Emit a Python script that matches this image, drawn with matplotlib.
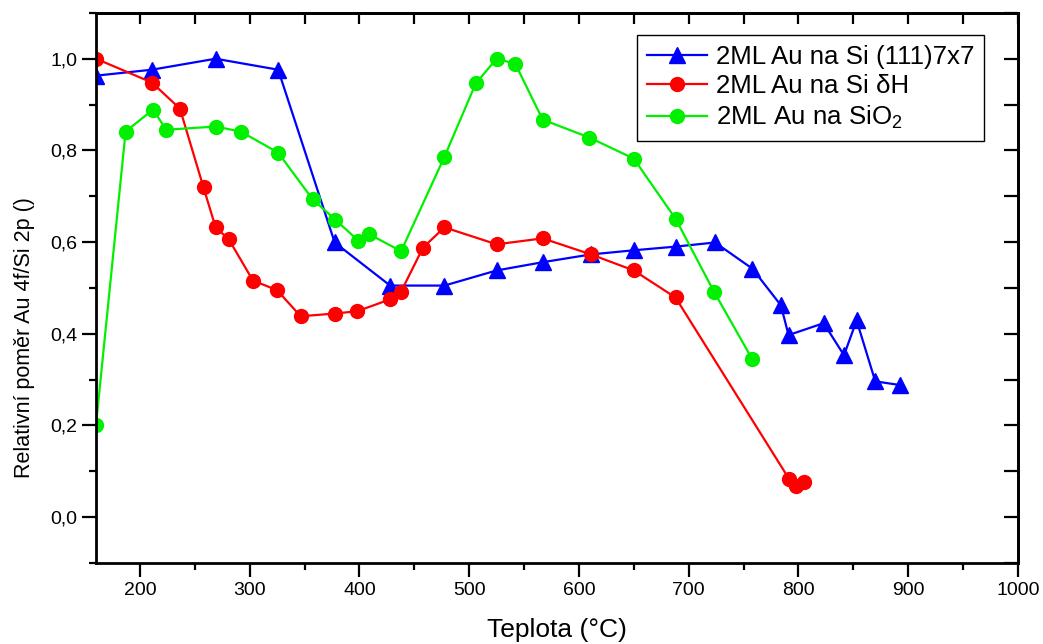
import matplotlib
matplotlib.use('Agg')
import matplotlib.pyplot as plt
from matplotlib.ticker import MultipleLocator
from matplotlib import font_manager

# data
x_blue = [160, 211, 269, 326, 377.5, 428, 477.5, 525, 567, 611, 650, 688, 724,
          758, 784, 791, 823, 841.5, 853, 870, 892.5]
y_blue = [0.963, 0.976, 1.0, 0.976, 0.599, 0.505, 0.505, 0.538, 0.556, 0.573,
          0.582, 0.590, 0.599, 0.542, 0.462, 0.397, 0.423, 0.353, 0.429, 0.296, 0.288]

x_red = [160, 211, 236.5, 258, 269, 281, 303, 325, 346.5, 377.5, 398, 428, 438,
         458, 477.5, 525, 567, 611, 650, 688, 791.5, 798, 805]
y_red = [1.0, 0.948, 0.891, 0.719, 0.632, 0.606, 0.516, 0.495, 0.438, 0.444,
         0.449, 0.475, 0.492, 0.588, 0.632, 0.595, 0.608, 0.573, 0.538, 0.479,
         0.083, 0.068, 0.076]

x_green = [160, 187, 212, 224, 269, 292, 326, 357.5, 378, 399, 409, 438, 477.5,
           506, 525, 542, 567, 609.5, 650, 688, 723, 758]
y_green = [0.200, 0.841, 0.889, 0.845, 0.852, 0.841, 0.795, 0.693, 0.649, 0.603,
           0.617, 0.580, 0.786, 0.946, 1.0, 0.989, 0.867, 0.828, 0.782, 0.651,
           0.492, 0.344]

labels = ['2ML Au na Si (111)7x7', '2ML Au na Si \u03b4H', '2ML Au na SiO$_2$']
xticks = [200, 300, 400, 500, 600, 700, 800, 900, 1000]
yticks = [0.0, 0.2, 0.4, 0.6, 0.8, 1.0]
ytick_labels = ['0,0', '0,2', '0,4', '0,6', '0,8', '1,0']

names = {f.name for f in font_manager.fontManager.ttflist}
narrow = 'Liberation Sans Narrow' if 'Liberation Sans Narrow' in names else 'Liberation Sans'

plt.rcParams['font.family'] = ['Liberation Sans', 'DejaVu Sans']
plt.rcParams['mathtext.default'] = 'regular'

fig = plt.figure(figsize=(10.43, 6.44), dpi=100)
ax = fig.add_axes([0.092, 0.126, 0.884, 0.854])

ax.plot(x_blue, y_blue, color='#0000ff', lw=1.6, marker='^', ms=11, label=labels[0])
ax.plot(x_red, y_red, color='#ff0000', lw=1.6, marker='o', ms=10, label=labels[1])
ax.plot(x_green, y_green, color='#00f000', lw=1.6, marker='o', ms=10, label=labels[2])

ax.set_xlim(160, 1000)
ax.set_ylim(-0.1, 1.1)
ax.set_xticks(xticks)
ax.set_xticklabels([str(t) for t in xticks], family=narrow, fontsize=14)
ax.set_yticks(yticks)
ax.set_yticklabels(ytick_labels, fontsize=14)
ax.xaxis.set_minor_locator(MultipleLocator(50))
ax.yaxis.set_minor_locator(MultipleLocator(0.1))
ax.tick_params(which='major', direction='out', length=10, width=1.6, top=False, right=False)
ax.tick_params(which='minor', direction='out', length=5, width=1.6, top=False, right=False)
for s in ax.spines.values():
    s.set_linewidth(2)

top = ax.secondary_xaxis('top')
top.set_xticks(xticks)
top.xaxis.set_minor_locator(MultipleLocator(50))
top.tick_params(which='both', direction='in', length=8, width=1.6, labeltop=False)
top.spines['top'].set_linewidth(2)
right = ax.secondary_yaxis('right')
right.set_yticks(yticks)
right.yaxis.set_minor_locator(MultipleLocator(0.1))
right.tick_params(which='both', direction='in', length=10, width=1.6, labelright=False)
right.spines['right'].set_linewidth(2)

ax.set_xlabel('Teplota (°C)', family=[narrow, 'DejaVu Sans'], fontsize=19, labelpad=14)
ax.set_ylabel('Relativní poměr Au 4f/Si 2p ()', fontsize=15.5)
ax.yaxis.set_label_coords(-0.066, 0.41)

leg = ax.legend(loc='upper right', bbox_to_anchor=(0.963, 0.96), fontsize=18.6,
                frameon=True, fancybox=False, edgecolor='black', framealpha=1,
                handlelength=2.3, handletextpad=0.35, labelspacing=0.22,
                borderpad=0.38, borderaxespad=0)
leg.get_frame().set_linewidth(1)

fig.savefig('out.png', dpi=100)
